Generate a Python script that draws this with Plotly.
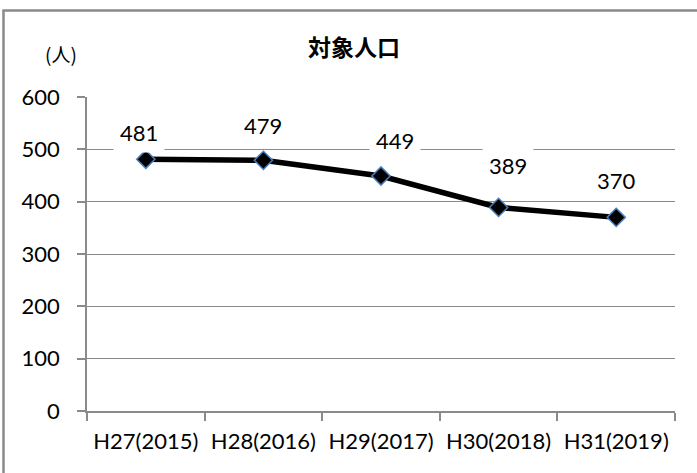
import plotly.graph_objects as go

categories = ["H27(2015)", "H28(2016)", "H29(2017)", "H30(2018)", "H31(2019)"]
population = [481, 479, 449, 389, 370]
y_ticks = [0, 100, 200, 300, 400, 500, 600]
title_text = "対象人口"
unit_text = "(人)"

# label placement offsets (pixels), as placed in the original chart
label_xshift = [-7, 0, 14, 9, 0]
label_yshift = [27, 35, 36, 42, 37]

FONT = "Lato, 'Noto Sans CJK JP', sans-serif"
CJK = "'Noto Sans CJK JP', sans-serif"
GRAY = "#8a8a8a"

W, H = 697, 473
PX0, PX1, PY0, PY1 = 87, 675, 97, 411


def px(x):
    return (x - PX0) / (PX1 - PX0)


def py(y):
    return (PY1 - y) / (PY1 - PY0)


fig = go.Figure()
fig.add_trace(go.Scatter(
    x=categories, y=population, mode="lines+markers",
    line=dict(color="black", width=5.5),
    marker=dict(symbol="diamond", size=14, color="black",
                line=dict(color="#4a7ebb", width=1.5)),
    hoverinfo="skip", showlegend=False,
))

for c, v, dx, dy in zip(categories, population, label_xshift, label_yshift):
    fig.add_annotation(x=c, y=v, text=str(v), showarrow=False,
                       xshift=dx, yshift=dy, xanchor="center", yanchor="middle",
                       bgcolor="white", borderpad=6,
                       font=dict(family=FONT, size=22, color="black"))

fig.add_annotation(xref="paper", yref="paper", x=px(354), y=py(46),
                   xanchor="center", yanchor="middle",
                   text="<b>" + title_text + "</b>", showarrow=False,
                   font=dict(family=CJK, size=23, color="black"))
fig.add_annotation(xref="paper", yref="paper", x=px(61), y=py(53),
                   xanchor="center", yanchor="middle",
                   text=unit_text, showarrow=False,
                   font=dict(family=CJK, size=19, color="black"))

# outer chart border (left and top)
fig.add_shape(type="line", xref="paper", yref="paper",
              x0=px(3.5), x1=px(3.5), y0=py(10), y1=py(480),
              line=dict(color=GRAY, width=2.5))
fig.add_shape(type="line", xref="paper", yref="paper",
              x0=px(2.5), x1=px(720), y0=py(10.5), y1=py(10.5),
              line=dict(color=GRAY, width=2.5))

fig.update_layout(
    width=W, height=H,
    margin=dict(l=PX0, r=W - PX1, t=PY0, b=H - PY1),
    paper_bgcolor="white", plot_bgcolor="white",
    font=dict(family=FONT, size=22, color="black"),
    xaxis=dict(type="category", tickson="boundaries", ticks="outside", ticklen=8,
               tickcolor=GRAY, tickwidth=1.5, showline=True, linecolor=GRAY, linewidth=1.5,
               showgrid=False, ticklabelstandoff=10, range=[-0.5, 4.5],
               tickfont=dict(family=FONT, size=22)),
    yaxis=dict(range=[0, 600], tickvals=y_ticks, ticks="outside", ticklen=8,
               tickcolor=GRAY, tickwidth=1.5, showline=True, linecolor=GRAY, linewidth=1.5,
               showgrid=True, gridcolor=GRAY, gridwidth=1.2, zeroline=False,
               ticklabelstandoff=13, tickfont=dict(family=FONT, size=22)),
)

fig.write_html("out.html", config={"displayModeBar": False},
               post_script="document.body.style.margin='0';")
